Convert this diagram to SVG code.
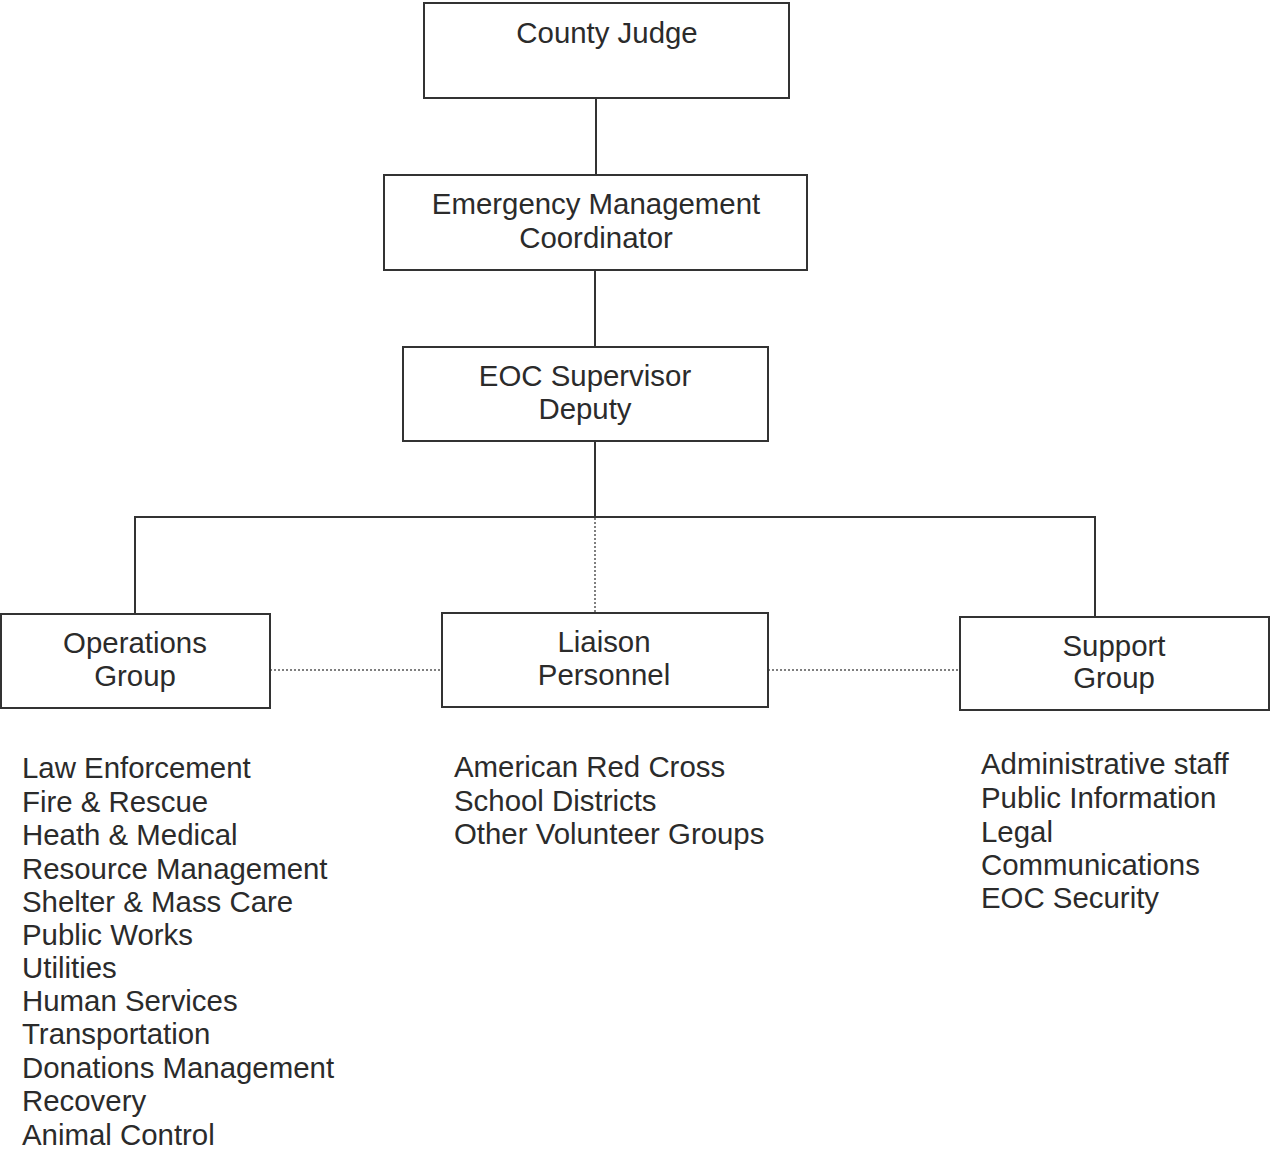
<svg xmlns="http://www.w3.org/2000/svg" width="1270" height="1151" viewBox="0 0 1270 1151">
<style>
.box{fill:#fff;stroke:#333;stroke-width:2}
.t{font-family:"Liberation Sans",Arial,sans-serif;font-size:29.4px;fill:#2b2b2b}
.c{text-anchor:middle}
.ln{stroke:#333;stroke-width:2;fill:none}
.dot{stroke:#555;stroke-width:1.5;stroke-dasharray:2 2;fill:none}
</style>
<rect width="1270" height="1151" fill="#fff"/>
<g id="connectors">
<line class="ln" x1="596" y1="98" x2="596" y2="175"/>
<line class="ln" x1="595" y1="270" x2="595" y2="347"/>
<line class="ln" x1="595" y1="441" x2="595" y2="517"/>
<polyline class="ln" points="135,614 135,517 1095,517 1095,617"/>
<line class="dot" x1="595" y1="518" x2="595" y2="613"/>
<line class="dot" x1="270" y1="670" x2="442" y2="670"/>
<line class="dot" x1="768" y1="670" x2="960" y2="670"/>
</g>
<g id="county-judge">
<rect class="box" x="424" y="3" width="365" height="95"/>
<text class="t c" x="607" y="43">County Judge</text>
</g>
<g id="emc">
<rect class="box" x="384" y="175" width="423" height="95"/>
<text class="t c" x="596" y="214">Emergency Management</text>
<text class="t c" x="596" y="248">Coordinator</text>
</g>
<g id="eoc-supervisor">
<rect class="box" x="403" y="347" width="365" height="94"/>
<text class="t c" x="585" y="386">EOC Supervisor</text>
<text class="t c" x="585" y="419">Deputy</text>
</g>
<g id="operations">
<rect class="box" x="1" y="614" width="269" height="94"/>
<text class="t c" x="135" y="653">Operations</text>
<text class="t c" x="135" y="686">Group</text>
</g>
<g id="liaison">
<rect class="box" x="442" y="613" width="326" height="94"/>
<text class="t c" x="604" y="652">Liaison</text>
<text class="t c" x="604" y="685">Personnel</text>
</g>
<g id="support">
<rect class="box" x="960" y="617" width="309" height="93"/>
<text class="t c" x="1114" y="656">Support</text>
<text class="t c" x="1114" y="688">Group</text>
</g>
<g id="operations-list" class="t">
<text x="22" y="778">Law Enforcement</text>
<text x="22" y="812">Fire &amp; Rescue</text>
<text x="22" y="845">Heath &amp; Medical</text>
<text x="22" y="879">Resource Management</text>
<text x="22" y="912">Shelter &amp; Mass Care</text>
<text x="22" y="945">Public Works</text>
<text x="22" y="978">Utilities</text>
<text x="22" y="1011">Human Services</text>
<text x="22" y="1044">Transportation</text>
<text x="22" y="1078">Donations Management</text>
<text x="22" y="1111">Recovery</text>
<text x="22" y="1145">Animal Control</text>
</g>
<g id="liaison-list" class="t">
<text x="454" y="777">American Red Cross</text>
<text x="454" y="811">School Districts</text>
<text x="454" y="844">Other Volunteer Groups</text>
</g>
<g id="support-list" class="t">
<text x="981" y="774">Administrative staff</text>
<text x="981" y="808">Public Information</text>
<text x="981" y="842">Legal</text>
<text x="981" y="875">Communications</text>
<text x="981" y="908">EOC Security</text>
</g>
</svg>
